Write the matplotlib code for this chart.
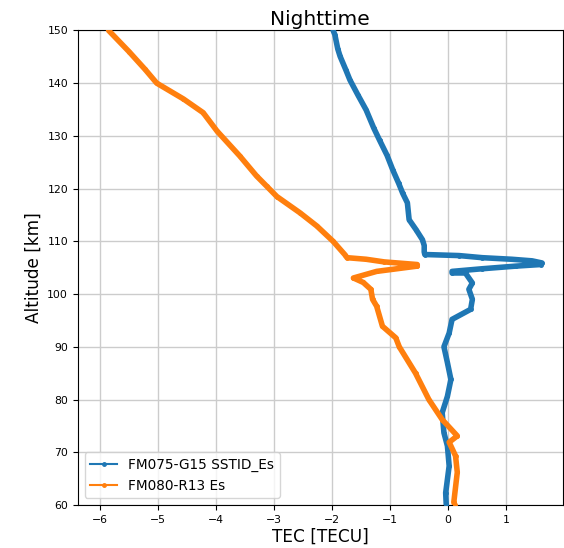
import matplotlib
matplotlib.use("Agg")
import matplotlib.pyplot as plt
from matplotlib.lines import Line2D

# FM075-G15 SSTID_Es (blue)
blue_tec = [-1.98, -1.95, -1.90, -1.86, -1.76, -1.69, -1.55, -1.41, -1.28, -1.18, -1.05,
            -0.95, -0.85, -0.78, -0.70, -0.67, -0.55, -0.44, -0.41, -0.41, -0.40, 0.19,
            0.59, 1.10, 1.45, 1.62, 1.60, 1.17, 0.59, 0.07, 0.07, 0.30, 0.42, 0.36, 0.42,
            0.39, 0.07, 0.02, -0.07, -0.01, 0.05, -0.01, -0.10, -0.07, -0.01, 0.02, -0.04, -0.03]
blue_alt = [150.0, 149.2, 146.5, 145.1, 142.5, 140.6, 137.7, 134.9, 131.5, 129.2, 126.3,
            123.5, 121.0, 119.1, 117.3, 114.1, 112.2, 110.3, 109.2, 108.0, 107.5, 107.3,
            106.9, 106.6, 106.3, 105.9, 105.6, 105.3, 104.8, 104.3, 104.0, 104.0, 102.1, 100.9, 99.0,
            97.1, 95.2, 92.6, 90.0, 87.0, 83.8, 80.6, 77.5, 73.7, 71.2, 67.4, 62.3, 60.0]

# FM080-R13 Es (orange)
orange_tec = [-5.85, -5.50, -5.22, -5.02, -4.56, -4.22, -3.98, -3.59, -3.30, -3.12, -2.95,
              -2.55, -2.26, -1.98, -1.78, -1.74, -1.41, -1.10, -0.53, -0.53, -1.23, -1.63,
              -1.46, -1.33, -1.30, -1.23, -1.13, -0.90, -0.84, -0.56, -0.33, -0.10, 0.16,
              0.02, 0.13, 0.16, 0.10, 0.12]
orange_alt = [150.0, 146.0, 142.6, 140.0, 137.0, 134.4, 130.9, 126.2, 122.4, 120.4, 118.5,
              115.4, 112.9, 110.0, 107.5, 106.9, 106.6, 106.1, 105.6, 105.3, 104.3, 103.05,
              102.2, 100.9, 99.0, 97.7, 93.9, 91.7, 90.0, 85.0, 80.0, 76.2, 73.1,
              71.9, 69.3, 66.2, 60.5, 60.0]

labels = ["FM075-G15 SSTID_Es", "FM080-R13 Es"]
blue = "#1f77b4"
orange = "#ff7f0e"

fig = plt.figure(figsize=(5.64, 5.48), dpi=100)
ax = fig.add_axes([0.138, 0.0785, 0.86, 0.866])

ax.plot(blue_tec, blue_alt, color=blue, lw=4.0, marker='.', ms=5,
        solid_joinstyle='round', solid_capstyle='round', zorder=3)
ax.plot(orange_tec, orange_alt, color=orange, lw=4.0, marker='.', ms=5,
        solid_joinstyle='round', solid_capstyle='round', zorder=3)

ax.set_xlim(-6.38, 1.98)
ax.set_ylim(60, 150)
ax.set_xticks([-6, -5, -4, -3, -2, -1, 0, 1])
ax.set_yticks(range(60, 151, 10))
ax.tick_params(labelsize=7.8)
ax.grid(True, color='#cccccc', lw=1)
ax.set_axisbelow(True)

ax.set_title("Nighttime", fontsize=14.5, pad=4)
ax.set_xlabel("TEC [TECU]", fontsize=12.2, labelpad=2)
ax.set_ylabel("Altitude [km]", fontsize=12.2, labelpad=3)

handles = [Line2D([], [], color=blue, lw=1.5, marker='.', ms=5),
           Line2D([], [], color=orange, lw=1.5, marker='.', ms=5)]
ax.legend(handles, labels, loc='lower left', fontsize=9.8)

fig.savefig("out.png", dpi=100)
